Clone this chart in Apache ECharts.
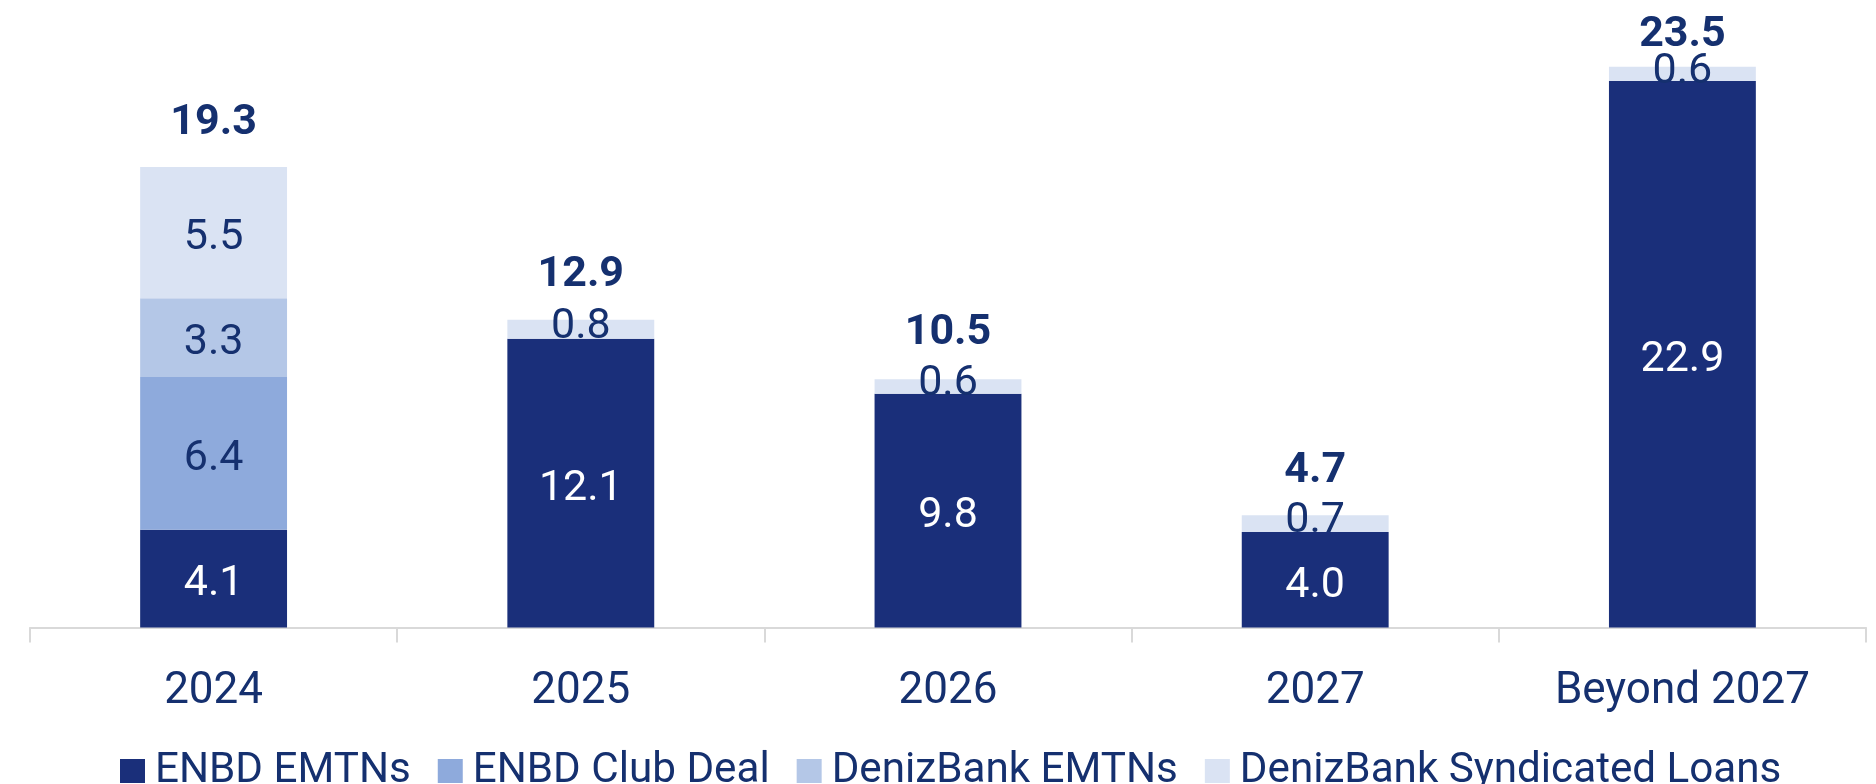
<!DOCTYPE html>
<html>
<head>
<meta charset="utf-8">
<script src="https://cdn.jsdelivr.net/npm/echarts@6/dist/echarts.min.js"></script>
<style>
  html, body { margin: 0; padding: 0; background: #fff; }
  #chart { width: 1876px; height: 784px; }
</style>
</head>
<body>
<div id="chart"></div>
<script>
// categories and values
const years = ['2024', '2025', '2026', '2027', 'Beyond 2027']
const enbdEmtns = [4.1, 12.1, 9.8, 4.0, 22.9]
const enbdClubDeal = [6.4, null, null, null, null]
const denizEmtns = [3.3, null, null, null, null]
const denizSyndicated = [5.5, 0.8, 0.6, 0.7, 0.6]
const totals = [19.3, 12.9, 10.5, 4.7, 23.5]

const navy = '#15306f'
const font = 'Roboto'

const fmt = p => p.value == null ? '' : Number(p.value).toFixed(1)

//small segments get their number nudged up a little
const syndData = denizSyndicated.map(v => ({
  value: v,
  label: {offset: [0, v < 1 ? -2 : 6]}
}))
const totalData = totals.map(v => ({
  value: v,
  label: {offset: [0, v > 20 ? -32 : -44]}
}))

const barLabel = (color) => ({
  show: true,
  position: 'inside',
  offset: [0, 6],
  color: color,
  fontFamily: font,
  fontSize: 43,
  formatter: fmt
})

const option = {
  animation: false,
  grid: {left: 30, right: 10, top: 0, bottom: 156.5},
  legend: {
    data: ['ENBD EMTNs', 'ENBD Club Deal', 'DenizBank EMTNs', 'DenizBank Syndicated Loans'],
    left: 115,
    top: 745,
    icon: 'rect',
    itemWidth: 25,
    itemHeight: 24,
    itemGap: 27,
    textStyle: {color: navy, fontFamily: font, fontSize: 42.2, padding: [0, 0, 0, 5]}
  },
  xAxis: {
    type: 'category',
    data: years,
    axisLine: {lineStyle: {color: '#d9d9d9', width: 2}},
    axisTick: {show: true, length: 15, lineStyle: {color: '#d9d9d9', width: 2}},
    axisLabel: {color: navy, fontFamily: font, fontSize: 44, margin: 42}
  },
  yAxis: {
    type: 'value',
    min: 0,
    max: 26.3,
    show: false,
    splitLine: {show: false}
  },
  series: [
    {
      name: 'ENBD EMTNs',
      type: 'bar',
      stack: 'total',
      barWidth: '40%',
      itemStyle: {color: '#1a2f7a'},
      label: barLabel('#ffffff'),
      data: enbdEmtns
    },
    {
      name: 'ENBD Club Deal',
      type: 'bar',
      stack: 'total',
      itemStyle: {color: '#8eaadc'},
      label: barLabel(navy),
      data: enbdClubDeal
    },
    {
      name: 'DenizBank EMTNs',
      type: 'bar',
      stack: 'total',
      itemStyle: {color: '#b4c7e7'},
      label: barLabel(navy),
      data: denizEmtns
    },
    {
      name: 'DenizBank Syndicated Loans',
      type: 'bar',
      stack: 'total',
      itemStyle: {color: '#dae3f3'},
      label: barLabel(navy),
      data: syndData
    },
    {
      name: 'total',
      type: 'scatter',
      symbolSize: 1,
      silent: true,
      itemStyle: {color: 'rgba(0,0,0,0)', opacity: 1},
      label: {
        show: true,
        position: 'inside',
        color: navy,
        fontFamily: font,
        fontWeight: 'bold',
        fontSize: 43,
        formatter: fmt
      },
      data: totalData
    }
  ]
}

const chart = echarts.init(document.getElementById('chart'))
chart.setOption(option)
</script>
</body>
</html>
